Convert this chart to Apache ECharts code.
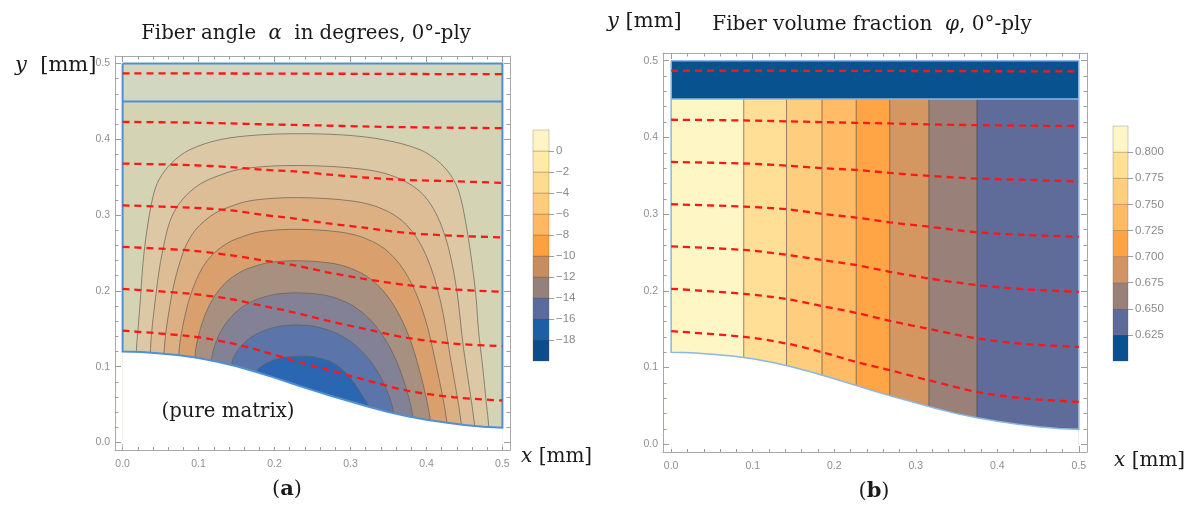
<!DOCTYPE html>
<html><head><meta charset="utf-8">
<script src="https://cdn.jsdelivr.net/npm/echarts@6/dist/echarts.min.js"></script>
<style>html,body{margin:0;padding:0;background:#fff}#c{width:1190px;height:506px}</style>
</head><body><div id="c"></div>
<script>
// ---------------- data ----------------
const axisTicks = [0, 0.1, 0.2, 0.3, 0.4, 0.5];
const axisMinorTicks = [0.02,0.04,0.06,0.08,0.12,0.14,0.16,0.18,0.22,0.24,0.26,0.28,0.32,0.34,0.36,0.38,0.42,0.44,0.46,0.48];

const cellWidth = 0.5;        // x extent of the cell [mm]
const plyTop = 0.5;           // top of the ply [mm]
const matrixInterface = 0.45; // interface line [mm]

// lower boundary (pure matrix below)
const boundaryX = [0,0.025,0.05,0.075,0.1,0.125,0.15,0.175,0.2,0.225,0.25,0.275,0.3,0.325,0.35,0.375,0.4,0.425,0.45,0.475,0.5];
const boundaryY = [0.1200,0.1193,0.1175,0.1150,0.1115,0.1065,0.1005,0.0932,0.0855,0.0772,0.0690,0.0612,0.0540,0.0468,0.0400,0.0345,0.0300,0.0262,0.0230,0.0207,0.0195];

// fiber paths (red dashed), shared x positions
const fiberPathX = [0, 0.089, 0.1416, 0.185, 0.2265, 0.268, 0.3155, 0.3747, 0.436, 0.5];
const fiberPath1 = [0.487,0.487,0.4869,0.4868,0.4867,0.4866,0.4865,0.4863,0.4861,0.486];
const fiberPath2 = [0.423,0.4221,0.421,0.4199,0.419,0.4182,0.417,0.416,0.4153,0.4148];
const fiberPath3 = [0.368,0.366,0.3633,0.3599,0.3577,0.3538,0.3499,0.3464,0.3447,0.3425];
const fiberPath4 = [0.3129,0.3098,0.3064,0.3003,0.2955,0.2894,0.2837,0.2764,0.2728,0.2706];
const fiberPath5 = [0.2581,0.2533,0.2471,0.2402,0.2337,0.2249,0.2163,0.2076,0.2019,0.1988];
const fiberPath6 = [0.2027,0.1962,0.1893,0.1802,0.1714,0.161,0.1506,0.138,0.1305,0.127];
const fiberPath7 = [0.1475,0.1401,0.1314,0.1201,0.1075,0.0966,0.0836,0.0683,0.0596,0.0553];

// contour lines of the fiber angle (levels -2 ... -16 degrees)
const contourM2 = [[0.018,0],[0.018,0.1195],[0.0202,0.148],[0.0235,0.19],[0.0268,0.2364],[0.0321,0.2804],[0.040,0.3245],[0.0479,0.3466],[0.0642,0.3686],[0.0884,0.3862],[0.128,0.3995],[0.175,0.4055],[0.229,0.4074],[0.29,0.4058],[0.3434,0.3995],[0.3918,0.3862],[0.4182,0.3686],[0.4358,0.3466],[0.4446,0.3245],[0.4534,0.2804],[0.46,0.2364],[0.4655,0.19],[0.4685,0.148],[0.474,0.10],[0.479,0.05],[0.482,0.0213],[0.482,0]];
const contourM4 = [[0.0365,0],[0.0365,0.1185],[0.0436,0.1926],[0.0530,0.2544],[0.0675,0.3038],[0.0946,0.3359],[0.1293,0.3532],[0.1626,0.3618],[0.229,0.3655],[0.3177,0.3604],[0.3639,0.3483],[0.3981,0.3243],[0.4220,0.2797],[0.4383,0.2110],[0.4487,0.1252],[0.4635,0.0222],[0.4635,0]];
const contourM6 = [[0.0545,0],[0.0545,0.117],[0.0620,0.1788],[0.0732,0.2304],[0.0896,0.2716],[0.1154,0.2984],[0.1459,0.3128],[0.1749,0.3200],[0.229,0.3231],[0.3021,0.3186],[0.3421,0.3081],[0.3737,0.2872],[0.3989,0.2483],[0.4180,0.1885],[0.4312,0.1137],[0.446,0.024],[0.446,0]];
const contourM8 = [[0.0739,0],[0.0739,0.1145],[0.0815,0.1645],[0.0937,0.2062],[0.1111,0.2396],[0.1352,0.2613],[0.1618,0.2730],[0.1862,0.2788],[0.229,0.2813],[0.2874,0.2775],[0.3213,0.2686],[0.3506,0.2508],[0.3761,0.2177],[0.3972,0.1669],[0.4125,0.1033],[0.427,0.027],[0.427,0]];
const contourM10 = [[0.095,0],[0.095,0.1115],[0.1024,0.15],[0.1148,0.1821],[0.1324,0.2077],[0.1542,0.2244],[0.1766,0.2334],[0.1967,0.2379],[0.229,0.2398],[0.2735,0.2367],[0.3015,0.2293],[0.3277,0.2147],[0.3527,0.1875],[0.3747,0.1456],[0.3913,0.0933],[0.405,0.0305],[0.405,0]];
const contourM12 = [[0.117,0],[0.117,0.1075],[0.1238,0.1345],[0.1359,0.157],[0.1527,0.175],[0.1718,0.1867],[0.1899,0.193],[0.2058,0.1962],[0.229,0.1975],[0.2614,0.1951],[0.2836,0.1894],[0.3066,0.178],[0.3306,0.1569],[0.3524,0.1244],[0.3693,0.0838],[0.382,0.035],[0.382,0]];
const contourM14 = [[0.1434,0],[0.1434,0.1015],[0.1491,0.1176],[0.1597,0.131],[0.1740,0.1418],[0.1893,0.1488],[0.2027,0.1525],[0.2143,0.1544],[0.229,0.1552],[0.2507,0.1535],[0.2676,0.1494],[0.2869,0.1414],[0.3086,0.1264],[0.3292,0.1034],[0.3454,0.0746],[0.3566,0.040],[0.3566,0]];
const contourM16 = [[0.1764,0],[0.1764,0.093],[0.184,0.1012],[0.193,0.1062],[0.203,0.1100],[0.216,0.1127],[0.2296,0.1138],[0.245,0.1136],[0.26,0.1112],[0.272,0.1075],[0.284,0.1005],[0.295,0.0905],[0.3055,0.0775],[0.315,0.063],[0.3237,0.047],[0.3237,0]];

// fiber volume fraction bands (x edges) of plot (b)
const phiBandEdges = [0, 0.089, 0.1415, 0.185, 0.227, 0.268, 0.316, 0.375, 0.5];

// legends
const angleLegendEdges = [-20,-18,-16,-14,-12,-10,-8,-6,-4,-2,0,2];
const angleLegendTicks = [-18,-16,-14,-12,-10,-8,-6,-4,-2,0];
const phiLegendEdges = [0.6,0.625,0.65,0.675,0.7,0.725,0.75,0.775,0.8,0.825];
const phiLegendTicks = [0.625,0.65,0.675,0.7,0.725,0.75,0.775,0.8];

// ---------------- styles ----------------
const angleRegionColors = ['#dcc8a5','#ddbd96','#dcb083','#d9a06e','#a89081','#838196','#5b74a9','#2a66b1'];
const angleOuterColor = '#d4d4b5';
const angleTopColor = '#d1d7c1';
const phiBandColors = ['#fff6c6','#ffdf96','#ffcd7e','#ffbb65','#ffa545','#d59762','#998079','#5f6c9a'];
const phiTopColor = '#07528f';
const angleLegendColors = ['#0c4c8a','#1c5fa5','#5a6b9d','#96807b','#c78d61','#ffa040','#ffb862','#ffcc7b','#ffdb92','#ffeaa9','#fff4c5'];
const phiLegendColors = ['#0a5192','#5d6b9b','#998079','#d19462','#ffa444','#ffbb63','#ffcf7f','#ffe195','#fff6c8'];
const serif = '"DejaVu Serif", "Liberation Serif", serif';
const sans = '"Liberation Sans", Arial, sans-serif';

const contours = [contourM2, contourM4, contourM6, contourM8, contourM10, contourM12, contourM14, contourM16];
const fiberPaths = [fiberPath1, fiberPath2, fiberPath3, fiberPath4, fiberPath5, fiberPath6, fiberPath7];
const boundaryPts = boundaryX.map((x, i) => [x, boundaryY[i]]);

// ---------------- helpers ----------------
function frameAxes(gridIndex, dim) {
  const pos = dim === 'x' ? ['bottom', 'top'] : ['left', 'right'];
  const base = {gridIndex, type: 'value', min: -0.01, max: 0.51, splitLine: {show: false}};
  const line = {show: true, onZero: false, lineStyle: {color: '#a9a9a9', width: 1}};
  const noLine = {show: false, onZero: false};
  const ts = {color: '#9c9c9c', width: 1};
  return [
    {...base, position: pos[0], axisLine: line,
      axisTick: {show: true, inside: true, length: 6, customValues: axisTicks, lineStyle: ts},
      axisLabel: {show: true, customValues: axisTicks, formatter: v => Number(v).toFixed(1),
        color: '#909090', fontSize: 10.5, fontFamily: sans, margin: dim === 'x' ? 9 : 5}},
    {...base, position: pos[0], axisLine: noLine,
      axisTick: {show: true, inside: true, length: 3.5, customValues: axisMinorTicks, lineStyle: ts}, axisLabel: {show: false}},
    {...base, position: pos[1], axisLine: line,
      axisTick: {show: true, inside: true, length: 6, customValues: axisTicks, lineStyle: ts}, axisLabel: {show: false}},
    {...base, position: pos[1], axisLine: noLine,
      axisTick: {show: true, inside: true, length: 3.5, customValues: axisMinorTicks, lineStyle: ts}, axisLabel: {show: false}}
  ];
}
function barX(gridIndex) { return {gridIndex, type: 'value', min: 0, max: 1, show: false}; }
function barY(gridIndex, min, max, ticks, fmt) {
  return {gridIndex, type: 'value', min, max, position: 'right', splitLine: {show: false},
    axisLine: {show: false, onZero: false},
    axisTick: {show: true, length: 5, customValues: ticks, lineStyle: {color: '#a0a0a0'}},
    axisLabel: {show: true, customValues: ticks, formatter: fmt, color: '#8a8a8a', fontSize: 11.5, fontFamily: sans, margin: 7}};
}
function shapes(xi, yi, items, z) {
  return {type: 'custom', xAxisIndex: xi, yAxisIndex: yi, z, silent: true, clip: false,
    data: items.map((_, i) => [i]),
    renderItem(params, api) {
      const it = items[params.dataIndex];
      const pts = it.points.map(p => api.coord(p));
      const xs = pts.map(p => p[0]), ys = pts.map(p => p[1]);
      const box = [[Math.min(...xs), Math.min(...ys)], [Math.max(...xs), Math.max(...ys)]];
      const shape = {points: pts, smooth: it.smooth || 0, smoothConstraint: box};
      if (it.line) return {type: 'polyline', shape, style: {fill: null, stroke: it.stroke, lineWidth: it.lineWidth}};
      return {type: 'polygon', shape, style: {fill: it.fill, stroke: it.stroke || null, lineWidth: it.lineWidth || 0}};
    }};
}
function rect(x0, x1, y0, y1) { return [[x0, y0], [x1, y0], [x1, y1], [x0, y1]]; }
function maskPts() {
  return boundaryPts.concat([[cellWidth, -0.006], [0, -0.006]]);
}
function outlinePts() {
  return [[0, plyTop]].concat(boundaryPts, [[cellWidth, plyTop], [0, plyTop]]);
}
function dashed(xi, yi) {
  return fiberPaths.map(p => ({type: 'line', xAxisIndex: xi, yAxisIndex: yi, z: 6, silent: true,
    data: fiberPathX.map((x, i) => [x, p[i]]), smooth: 0.3, symbol: 'none',
    lineStyle: {color: '#ff1616', width: 2.3, type: [7, 5]}}));
}

// ---------------- plot (a) ----------------
const aFills = [
  {points: rect(0, cellWidth, 0, matrixInterface), fill: angleOuterColor},
  {points: rect(0, cellWidth, matrixInterface, plyTop), fill: angleTopColor}
].concat(contours.map((c, i) => ({points: c, fill: angleRegionColors[i], smooth: 0.35})));
const aLines = contours.map(c => ({points: c, line: true, stroke: 'rgba(100,95,88,0.7)', lineWidth: 1, smooth: 0.35}));
const aMask = [{points: maskPts(), fill: '#ffffff'}];
const aOutline = [
  {points: outlinePts(), line: true, stroke: '#4f8fd4', lineWidth: 2},
  {points: [[0, matrixInterface], [cellWidth, matrixInterface]], line: true, stroke: '#4f8fd4', lineWidth: 2}
];

// ---------------- plot (b) ----------------
const bFills = phiBandEdges.slice(0, -1).map((x0, i) => ({points: rect(x0, phiBandEdges[i + 1], 0, matrixInterface), fill: phiBandColors[i]}))
  .concat([{points: rect(0, cellWidth, matrixInterface, plyTop), fill: phiTopColor}]);
const bLines = phiBandEdges.slice(1, -1).map(x => ({points: [[x, 0], [x, matrixInterface]], line: true, stroke: 'rgba(60,50,40,0.55)', lineWidth: 1}));
const bMask = [{points: maskPts(), fill: '#ffffff'}];
const bOutline = [
  {points: outlinePts(), line: true, stroke: '#8db6e2', lineWidth: 1.5},
  {points: [[0, matrixInterface], [cellWidth, matrixInterface]], line: true, stroke: '#8db6e2', lineWidth: 1.5}
];

// ---------------- legends ----------------
const aLegend = angleLegendEdges.slice(0, -1).map((lo, i) => ({points: rect(0, 1, lo, angleLegendEdges[i + 1]), fill: angleLegendColors[i], stroke: 'rgba(100,80,50,0.35)', lineWidth: 0.8}));
const bLegend = phiLegendEdges.slice(0, -1).map((lo, i) => ({points: rect(0, 1, lo, phiLegendEdges[i + 1]), fill: phiLegendColors[i], stroke: 'rgba(100,80,50,0.35)', lineWidth: 0.8}));

const chart = echarts.init(document.getElementById('c'));
const richI = (size) => ({i: {fontStyle: 'italic', fontFamily: serif, fontSize: size, fill: '#1a1a1a'}, b: {fontWeight: 'bold', fontFamily: serif, fontSize: size, fill: '#1a1a1a'}});
function label(text, x, y, size, align) {
  return {type: 'text', x, y, z: 100, silent: true, style: {text, fontFamily: serif, fontSize: size, fill: '#1a1a1a',
    align: align || 'center', verticalAlign: 'middle', rich: richI(size)}};
}

chart.setOption({
  animation: false,
  backgroundColor: '#ffffff',
  grid: [
    {left: 115, top: 56, width: 395, height: 394},
    {left: 533, top: 130, width: 16, height: 231},
    {left: 663, top: 53, width: 424, height: 399},
    {left: 1113, top: 126, width: 15, height: 235}
  ],
  xAxis: [...frameAxes(0, 'x'), barX(1), ...frameAxes(2, 'x'), barX(3)],
  yAxis: [...frameAxes(0, 'y'),
    barY(1, -20, 2, angleLegendTicks, v => (v < 0 ? '\u2212' + Math.abs(v) : String(v))),
    ...frameAxes(2, 'y'),
    barY(3, 0.6, 0.825, phiLegendTicks, v => Number(v).toFixed(3))],
  series: [
    shapes(0, 0, aFills, 1), shapes(0, 0, aLines, 2), shapes(0, 0, aMask, 3), shapes(0, 0, aOutline, 4),
    ...dashed(0, 0),
    shapes(5, 5, bFills, 1), shapes(5, 5, bLines, 2), shapes(5, 5, bMask, 3), shapes(5, 5, bOutline, 4),
    ...dashed(5, 5),
    shapes(4, 4, aLegend, 1), shapes(9, 9, bLegend, 1)
  ],
  graphic: {z: 100, elements: [
    label('Fiber angle  {i|\u03b1}  in degrees, 0\u00b0-ply', 306, 34, 19.7),
    label('{i|y}  [mm]', 15, 66, 21, 'left'),
    label('{i|x} [mm]', 521, 457, 20, 'left'),
    label('(pure matrix)', 228, 412, 19.7),
    label('({b|a})', 287, 490, 21),
    label('{i|y} [mm]', 607, 22, 21, 'left'),
    label('Fiber volume fraction  {i|\u03c6}, 0\u00b0-ply', 872, 25, 20),
    label('{i|x} [mm]', 1114, 461, 20, 'left'),
    label('({b|b})', 874, 492, 21)
  ]}
});
</script>
</body></html>
